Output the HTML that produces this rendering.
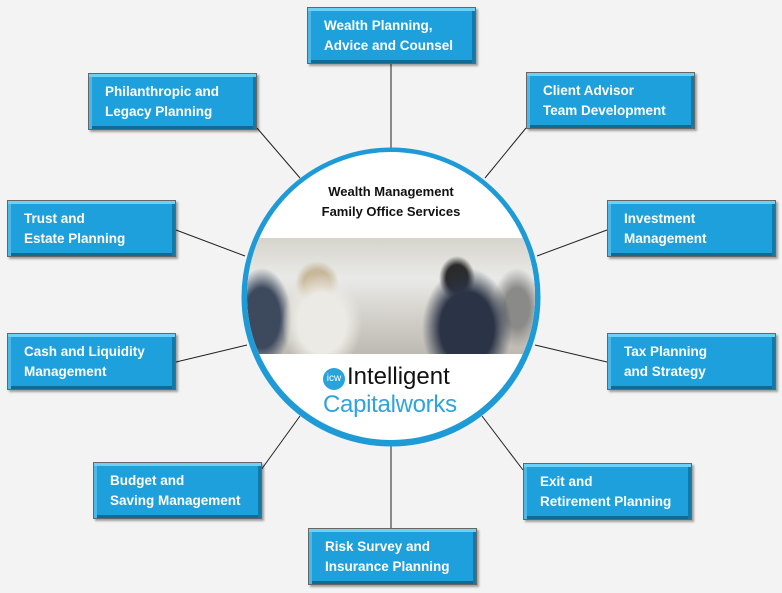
<!DOCTYPE html>
<html><head><style>
body{margin:0;width:782px;height:593px;background:#f3f3f3;position:relative;overflow:hidden;font-family:"Liberation Sans",sans-serif}
.b{position:absolute;width:169px;height:57px;box-sizing:border-box;background:#1ea0dc;border:1px solid #666;
box-shadow:inset 0 3px 0 #6fd0f5,inset 3px 0 0 #4bb8e8,inset -3px 0 0 #137aa8,inset 0 -3px 0 #0f6a94,2px 2px 2px rgba(0,0,0,.35);
color:#fff;font-weight:bold;font-size:13.5px;line-height:20px;padding:8px 0 0 16px}
svg{position:absolute;left:0;top:0}
.c{position:absolute;left:247px;top:152px;width:288px;height:288px;border-radius:50%;overflow:hidden;background:#fff}
.t{position:absolute;left:0;width:288px;text-align:center;font-weight:bold;font-size:13px;line-height:20px;top:30px;color:#111}
.ph{position:absolute;left:0;top:86px;width:288px;height:116px;
background:
radial-gradient(ellipse 40px 50px at 75px 85px,#eceae4 60%,transparent 100%),
radial-gradient(ellipse 22px 22px at 70px 45px,#c8b89a 60%,transparent 100%),
radial-gradient(ellipse 45px 60px at 220px 90px,#2b3446 60%,transparent 100%),
radial-gradient(ellipse 18px 22px at 210px 40px,#2a2a2a 60%,transparent 100%),
radial-gradient(ellipse 30px 50px at 15px 80px,#3d4a5e 60%,transparent 100%),
radial-gradient(ellipse 25px 40px at 270px 70px,#8a8a88 50%,transparent 100%),
linear-gradient(180deg,#d6d4cc 0%,#e9eae8 35%,#d8d6d0 60%,#bdbab2 100%)}
</style></head><body>
<svg width="782" height="593"><g stroke="#222" stroke-width="1">
<line x1="391" y1="64" x2="391" y2="149"/>
<line x1="257" y1="128" x2="300" y2="178"/>
<line x1="526" y1="128" x2="485" y2="178"/>
<line x1="176" y1="230" x2="245" y2="256"/>
<line x1="607" y1="230" x2="537" y2="256"/>
<line x1="176" y1="362" x2="247" y2="345"/>
<line x1="607" y1="362" x2="535" y2="345"/>
<line x1="261" y1="470" x2="300" y2="416"/>
<line x1="523" y1="470" x2="482" y2="416"/>
<line x1="391" y1="528" x2="391" y2="446"/>
</g><circle cx="391" cy="297" r="146" fill="#fff" stroke="#1e9bd7" stroke-width="7"/></svg>
<div class="c"><div class="t">Wealth Management<br>Family Office Services</div><div class="ph"></div>
<div style="position:absolute;left:76px;top:216px;width:22px;height:22px;border-radius:50%;background:#29a3dc;color:#fff;font-size:10px;line-height:22px;text-align:center">icw</div>
<div style="position:absolute;left:100px;top:211px;font-size:24px;color:#111">Intelligent</div>
<div style="position:absolute;left:76px;top:239px;font-size:24px;color:#2fa3dd;letter-spacing:-0.3px">Capitalworks</div></div>
<div class="b" style="left:307px;top:7px">Wealth Planning,<br>Advice and Counsel</div>
<div class="b" style="left:88px;top:73px">Philanthropic and<br>Legacy Planning</div>
<div class="b" style="left:526px;top:72px">Client Advisor<br>Team Development</div>
<div class="b" style="left:7px;top:200px">Trust and<br>Estate Planning</div>
<div class="b" style="left:607px;top:200px">Investment<br>Management</div>
<div class="b" style="left:7px;top:333px">Cash and Liquidity<br>Management</div>
<div class="b" style="left:607px;top:333px">Tax Planning<br>and Strategy</div>
<div class="b" style="left:93px;top:462px">Budget and<br>Saving Management</div>
<div class="b" style="left:523px;top:463px">Exit and<br>Retirement Planning</div>
<div class="b" style="left:308px;top:528px">Risk Survey and<br>Insurance Planning</div>
</body></html>
